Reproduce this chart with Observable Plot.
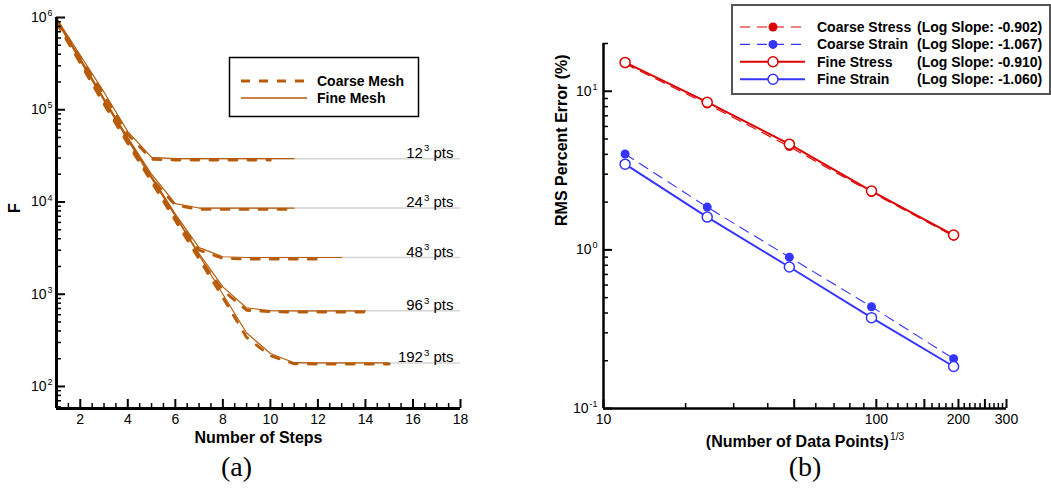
<!DOCTYPE html>
<html><head><meta charset="utf-8">
<script src="https://cdn.jsdelivr.net/npm/d3@7"></script>
<script src="https://cdn.jsdelivr.net/npm/@observablehq/plot@0.6"></script>
<style>
body{margin:0;background:#fff;}
#wrap{position:relative;width:1051px;height:496px;overflow:hidden;background:#fff;}
.panel{position:absolute;top:0;}
#overlay{position:absolute;left:0;top:0;pointer-events:none;}
text{white-space:pre;}
</style></head><body><div id="wrap"></div>
<script>
// ---------- Panel (a) data ----------
const steps = [1,2,3,4,5,6,7,8,9,10,11,12,13,14,15];
const coarse12  = [9.5e5,3.7e5,1.45e5,5.4e4,2.9e4,2.85e4,2.85e4,2.85e4,2.85e4,2.85e4];
const fine12    = [9.8e5,3.9e5,1.55e5,5.8e4,3.05e4,2.95e4,2.95e4,2.95e4,2.95e4,2.95e4,2.95e4];
const coarse24  = [9.2e5,3.4e5,1.25e5,4.7e4,1.8e4,9.2e3,8.3e3,8.3e3,8.3e3,8.3e3,8.3e3];
const fine24    = [9.6e5,3.6e5,1.32e5,5.0e4,2.0e4,9.6e3,8.6e3,8.6e3,8.6e3,8.6e3,8.6e3];
const coarse48  = [9.0e5,3.3e5,1.2e5,4.5e4,1.75e4,6.8e3,3.0e3,2.45e3,2.4e3,2.4e3,2.4e3,2.4e3];
const fine48    = [9.5e5,3.5e5,1.3e5,4.9e4,1.9e4,7.4e3,3.2e3,2.55e3,2.5e3,2.5e3,2.5e3,2.5e3,2.5e3];
const coarse96  = [8.9e5,3.25e5,1.18e5,4.4e4,1.7e4,6.6e3,2.5e3,1.1e3,670,645,640,640,640,640];
const fine96    = [9.4e5,3.45e5,1.28e5,4.8e4,1.85e4,7.2e3,2.75e3,1.2e3,710,665,660,660,660,660];
const coarse192 = [8.8e5,3.2e5,1.15e5,4.3e4,1.65e4,6.3e3,2.4e3,920,340,215,176,175,175,175,175];
const fine192   = [9.3e5,3.4e5,1.25e5,4.7e4,1.8e4,7.0e3,2.65e3,1.0e3,380,228,181,180,180,180,180];
const resolutions = ["12","24","48","96","192"];
const plateauLevels = [2.95e4, 8.6e3, 2.5e3, 660, 180];
const plateauStart = [5, 7, 9, 10, 11];
const resLabels = ["12^3 pts","24^3 pts","48^3 pts","96^3 pts","192^3 pts"];
const meshNames = ["Coarse Mesh","Fine Mesh"];
const xTicksA = [2,4,6,8,10,12,14,16,18];
const yTicksA = [1e2,1e3,1e4,1e5,1e6];

// ---------- Panel (b) data ----------
const dataPoints = [12, 24, 48, 96, 192];
const coarseStress = [14.9, 8.3, 4.48, 2.3, 1.22];
const coarseStrain = [4.02, 1.86, 0.90, 0.438, 0.206];
const fineStress   = [15.2, 8.53, 4.64, 2.35, 1.24];
const fineStrain   = [3.47, 1.61, 0.78, 0.374, 0.184];
const seriesNamesB = ["Coarse Stress","Coarse Strain","Fine Stress","Fine Strain"];
const slopeLabelsB = ["(Log Slope: -0.902)","(Log Slope: -1.067)","(Log Slope: -0.910)","(Log Slope: -1.060)"];
const xTickLabelsB = [10, 50, 100, 200, 300];
const xMajorB = [10, 50, 100, 150, 200, 250, 300];
const yTicksB = [0.1, 1, 10];

// ---------- styling ----------
const BROWN = "#b65c0a";
const RED = "#dd0000";
const BLUE = "#3535ff";
const FONT = "'Liberation Sans', Arial, sans-serif";

// ---------- tables ----------
const coarseA = [coarse12, coarse24, coarse48, coarse96, coarse192];
const fineA = [fine12, fine24, fine48, fine96, fine192];
const coarseTable = coarseA.flatMap((arr, k) => arr.map((v, i) => ({series: resolutions[k], step: steps[i], F: v})));
const fineTable = fineA.flatMap((arr, k) => arr.map((v, i) => ({series: resolutions[k], step: steps[i], F: v})));
const plateauTable = plateauLevels.map((v, k) => ({F: v, start: plateauStart[k], label: resLabels[k]}));

const yDomA = [57.7, 1e6];
const xDomA = [1, 18];
const yMinorA = [];
for (let e = 1; e <= 5; e++) for (let m = 2; m <= 9; m++) { const v = m * 10 ** e; if (v > yDomA[0] && v < yDomA[1]) yMinorA.push(v); }
const xMinorA = [];
for (let v = 1.5; v < 18; v += 0.5) if (v % 2 !== 0) xMinorA.push(v);

const mkB = (arr) => arr.map((v, i) => ({x: dataPoints[i], y: v}));
const yDomB = [0.1, 20];
const xDomB = [10, 300];
const yMinorB = [];
for (let e = -1; e <= 1; e++) for (let m = 2; m <= 9; m++) { const v = +(m * 10 ** e).toPrecision(3); if (v > yDomB[0] && v <= yDomB[1]) yMinorB.push(v); }
const xMinorB = [];
for (let v = 20; v < 300; v += 10) if (!xMajorB.includes(v) && (v < 50 ? v % 10 === 0 : true)) xMinorB.push(v);

const expFmt = d => "10^" + Math.round(Math.log10(d));

// ---------- panel (a) ----------
const plotA = Plot.plot({
  width: 500, height: 496,
  marginLeft: 56, marginRight: 40, marginTop: 17, marginBottom: 88,
  style: {fontFamily: FONT, fontSize: "14px", background: "transparent", color: "black"},
  x: {domain: xDomA, axis: null},
  y: {type: "log", domain: yDomA, axis: null},
  marks: [
    Plot.ruleY(plateauTable, {y: "F", x1: "start", x2: xDomA[1], stroke: "#d4d4d4", strokeWidth: 1.5}),
    Plot.line(fineTable, {x: "step", y: "F", z: "series", stroke: BROWN, strokeWidth: 1.2}),
    Plot.line(coarseTable, {x: "step", y: "F", z: "series", stroke: BROWN, strokeWidth: 2.8, strokeDasharray: "8,11"}),
    Plot.text(plateauTable, {x: xDomA[1], y: "F", text: "label", textAnchor: "end", lineAnchor: "bottom", dx: -7, dy: -1, fontSize: 15}),
    Plot.ruleX([xDomA[0]], {strokeWidth: 3}),
    Plot.ruleY([yDomA[0]], {strokeWidth: 3}),
    Plot.axisY(yTicksA, {tickSize: -9, strokeWidth: 2, tickFormat: () => "", label: null}),
    Plot.axisY(yMinorA, {tickSize: -5, strokeWidth: 1.5, tickFormat: () => "", label: null}),
    Plot.axisY(yTicksA, {tickSize: 0, tickPadding: 4, tickFormat: expFmt, label: null, fontSize: 14}),
    Plot.axisX(xTicksA, {tickSize: -9, strokeWidth: 2, tickFormat: () => "", label: null}),
    Plot.axisX(xMinorA, {tickSize: -5, strokeWidth: 1.5, tickFormat: () => "", label: null}),
    Plot.axisX(xTicksA, {tickSize: 0, tickPadding: 6, label: null, fontSize: 14}),
    Plot.text(["F"], {frameAnchor: "left", text: d => d, rotate: -90, dx: -42, fontWeight: "bold", fontSize: 16}),
    Plot.text(["Number of Steps"], {frameAnchor: "bottom", text: d => d, dy: 34, fontWeight: "bold", fontSize: 16}),
    Plot.text(["(a)"], {frameAnchor: "bottom", text: d => d, dy: 67, dx: -22, fontSize: 28, fontFamily: "'Liberation Serif', serif"})
  ]
});

// ---------- panel (b) ----------
const plotB = Plot.plot({
  width: 551, height: 496,
  marginLeft: 103, marginRight: 45, marginTop: 43, marginBottom: 88,
  style: {fontFamily: FONT, fontSize: "14px", background: "transparent", color: "black"},
  x: {type: "log", domain: xDomB, axis: null},
  y: {type: "log", domain: yDomB, axis: null},
  marks: [
    Plot.line(mkB(coarseStress), {x: "x", y: "y", stroke: RED, strokeWidth: 1.1, strokeDasharray: "10,7"}),
    Plot.line(mkB(coarseStrain), {x: "x", y: "y", stroke: BLUE, strokeWidth: 1.1, strokeDasharray: "10,7"}),
    Plot.dot(mkB(coarseStress), {x: "x", y: "y", r: 4.5, fill: RED}),
    Plot.dot(mkB(coarseStrain), {x: "x", y: "y", r: 4.5, fill: BLUE}),
    Plot.line(mkB(fineStress), {x: "x", y: "y", stroke: RED, strokeWidth: 2}),
    Plot.line(mkB(fineStrain), {x: "x", y: "y", stroke: BLUE, strokeWidth: 2}),
    Plot.dot(mkB(fineStress), {x: "x", y: "y", r: 5, fill: "white", stroke: RED, strokeWidth: 1.5}),
    Plot.dot(mkB(fineStrain), {x: "x", y: "y", r: 5, fill: "white", stroke: BLUE, strokeWidth: 1.5}),
    Plot.ruleX([xDomB[0]], {strokeWidth: 2.5}),
    Plot.ruleY([yDomB[0]], {strokeWidth: 2.5}),
    Plot.axisY(yTicksB, {tickSize: -9, strokeWidth: 2, tickFormat: () => "", label: null}),
    Plot.axisY(yMinorB, {tickSize: -5, strokeWidth: 1.5, tickFormat: () => "", label: null}),
    Plot.axisY(yTicksB, {tickSize: 0, tickPadding: 6, tickFormat: expFmt, label: null, fontSize: 14}),
    Plot.axisX(xMajorB, {tickSize: -9, strokeWidth: 2, tickFormat: () => "", label: null}),
    Plot.axisX(xMinorB, {tickSize: -5, strokeWidth: 1.5, tickFormat: () => "", label: null}),
    Plot.axisX(xTickLabelsB, {tickSize: 0, tickPadding: 6, tickFormat: d => String(d), label: null, fontSize: 14}),
    Plot.text(["RMS Percent Error (%)"], {frameAnchor: "left", text: d => d, rotate: -90, dx: -42, fontWeight: "bold", fontSize: 16}),
    Plot.text(["(Number of Data Points)^1/3"], {frameAnchor: "bottom", text: d => d, dy: 38, fontWeight: "bold", fontSize: 16}),
    Plot.text(["(b)"], {frameAnchor: "bottom", text: d => d, dy: 67, fontSize: 28, fontFamily: "'Liberation Serif', serif"})
  ]
});

const wrap = document.getElementById("wrap");
plotA.classList.add("panel"); plotA.style.left = "0px";
plotB.classList.add("panel"); plotB.style.left = "500px";
wrap.appendChild(plotA);
wrap.appendChild(plotB);

// ---------- superscripts ----------
function supify(svg) {
  d3.select(svg).selectAll("text").each(function () {
    const s = this.textContent;
    const i = s.indexOf("^");
    if (i < 0) return;
    const fs = parseFloat(getComputedStyle(this).fontSize) || 14;
    const m = s.slice(i + 1).match(/^(\S+)(.*)$/);
    const base = s.slice(0, i), sup = m[1], after = m[2];
    const sel = d3.select(this);
    sel.text(null);
    sel.append("tspan").text(base);
    sel.append("tspan").attr("dy", -0.42 * fs).attr("dx", 1).attr("font-size", 0.64 * fs).attr("font-weight", "normal").text(sup);
    if (after) sel.append("tspan").attr("dy", 0.42 * fs).text(after);
  });
}
supify(plotA); supify(plotB);

// ---------- legends ----------
const ov = d3.select(wrap).append("svg").attr("id", "overlay").attr("width", 1051).attr("height", 496)
  .style("font-family", FONT);
// legend (a)
const la = ov.append("g");
la.append("rect").attr("x", 229.5).attr("y", 57.5).attr("width", 189).attr("height", 59).attr("fill", "white").attr("stroke", "black").attr("stroke-width", 1.5);
const legA = [{dash: "9,9", w: 2.8}, {dash: null, w: 1.3}];
legA.forEach((d, k) => {
  const y = 81 + k * 17;
  la.append("line").attr("x1", 241).attr("x2", 307).attr("y1", y).attr("y2", y).attr("stroke", BROWN).attr("stroke-width", d.w).attr("stroke-dasharray", d.dash);
  la.append("text").attr("x", 317).attr("y", y).attr("dy", "0.35em").attr("font-size", 14).attr("font-weight", "bold").text(meshNames[k]);
});
// legend (b)
const lb = ov.append("g");
lb.append("rect").attr("x", 732).attr("y", 5).attr("width", 318).attr("height", 89).attr("fill", "white").attr("stroke", "#555").attr("stroke-width", 2);
const legB = [
  {c: RED, dash: "10,7", w: 1.1, open: false},
  {c: BLUE, dash: "10,7", w: 1.1, open: false},
  {c: RED, dash: null, w: 2, open: true},
  {c: BLUE, dash: null, w: 2, open: true}
];
legB.forEach((d, k) => {
  const y = 27 + k * 17.4;
  lb.append("line").attr("x1", 740).attr("x2", 805).attr("y1", y).attr("y2", y).attr("stroke", d.c).attr("stroke-width", d.w).attr("stroke-dasharray", d.dash);
  if (d.open) lb.append("circle").attr("cx", 773).attr("cy", y).attr("r", 5).attr("fill", "white").attr("stroke", d.c).attr("stroke-width", 1.5);
  else lb.append("circle").attr("cx", 773).attr("cy", y).attr("r", 4.5).attr("fill", d.c);
  lb.append("text").attr("x", 817).attr("y", y).attr("dy", "0.35em").attr("font-size", 14).attr("font-weight", "bold").text(seriesNamesB[k]);
  lb.append("text").attr("x", 917).attr("y", y).attr("dy", "0.35em").attr("font-size", 14).attr("font-weight", "bold").text(slopeLabelsB[k]);
});
</script>
</body></html>
